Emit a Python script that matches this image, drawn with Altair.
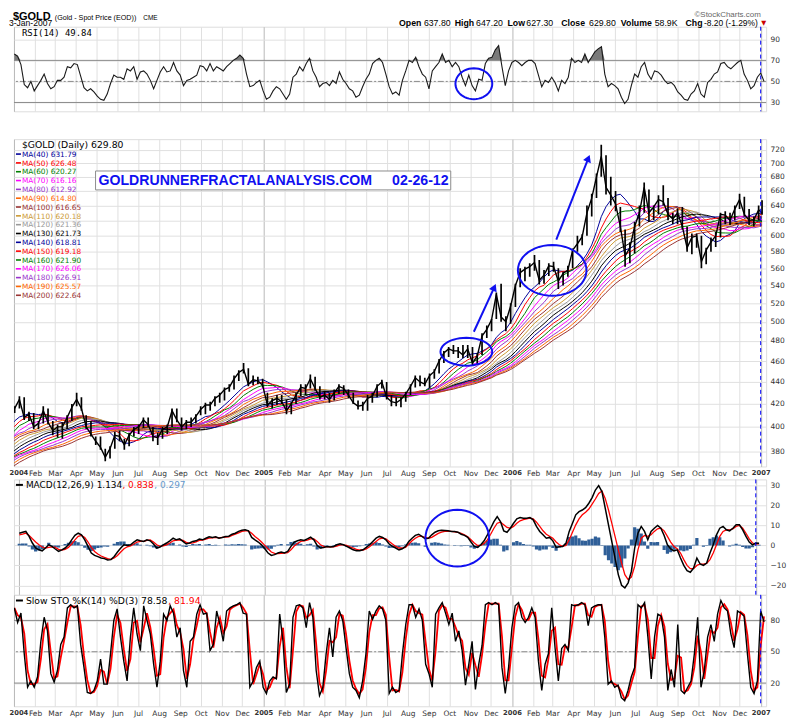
import altair as alt
import numpy as np
import pandas as pd

# ------------------------------------------------------------------ data
# Weekly (Friday) closes of 2003: left of the visible window, they only feed the moving averages.
CLOSE_2003_FIRST_FRIDAY = "2003-01-03"
CLOSE_2003 = [347, 355, 355, 367, 368, 373, 355, 350, 347, 352, 337, 330, 334, 325, 328,
              329, 334, 342, 348, 355, 365, 362, 363, 353, 355, 345, 349, 346, 346, 357,
              354, 357, 360, 364, 375, 378, 380, 384, 387, 370, 374, 371, 385, 383, 381,
              397, 397, 398, 403, 407, 410, 413]

# Weekly (Friday) bars 2004-01-02 .. 2006-12-29
BARS_FIRST_FRIDAY = "2004-01-02"
HIGH = [418, 427, 426, 413, 412, 405, 418, 416, 405, 402, 404, 410, 420, 430, 426, 410, 405, 392,
        392, 382, 384, 396, 397, 390, 395, 400, 402, 408, 408, 400, 395, 400, 402, 416, 416, 408,
        406, 408, 411, 418, 421, 422, 427, 430, 435, 438, 446, 451, 458, 453, 446, 445, 443,
        430, 425, 428, 428, 424, 422, 430, 438, 438, 447, 445, 436, 432, 430, 433, 438, 437, 433,
        430, 423, 422, 428, 430, 438, 442, 440, 428, 426, 426, 431, 438, 446, 446, 444, 448, 452,
        462, 470, 474, 476, 474, 476, 476, 474, 468, 488, 496, 503, 532, 542, 506, 520,
        542, 560, 562, 566, 576, 570, 558, 566, 568, 560, 556, 563, 584, 600, 602, 640, 656, 685,
        728, 712, 680, 660, 638, 608, 592, 618, 640, 672, 662, 640, 654, 668, 650, 630, 636, 638,
        612, 603, 603, 600, 585, 598, 605, 630, 632, 630, 640, 656, 652, 635, 625, 640]
LOW = [412, 416, 406, 405, 398, 398, 403, 402, 393, 391, 390, 398, 405, 418, 414, 398, 392, 385,
       381, 372, 374, 382, 388, 381, 384, 392, 394, 399, 400, 388, 385, 390, 394, 400, 404, 397,
       398, 400, 403, 410, 411, 414, 418, 421, 423, 431, 433, 441, 448, 436, 437, 438, 435,
       417, 416, 419, 420, 411, 411, 420, 427, 428, 434, 432, 424, 424, 421, 423, 429, 428, 425,
       420, 415, 414, 414, 421, 426, 434, 424, 418, 418, 417, 422, 428, 435, 436, 436, 434, 443,
       448, 458, 464, 467, 463, 463, 463, 456, 457, 466, 483, 490, 503, 500, 490, 498,
       516, 538, 545, 550, 557, 541, 542, 551, 556, 536, 540, 550, 560, 580, 588, 600, 625, 650,
       680, 655, 640, 632, 605, 562, 566, 578, 612, 630, 618, 620, 628, 640, 620, 615, 615, 608,
       580, 577, 585, 560, 565, 580, 586, 598, 615, 614, 620, 635, 625, 614, 612, 620]
CLOSE = [416, 424, 408, 411, 400, 403, 414, 404, 397, 400, 400, 408, 417, 424, 416, 400, 394, 388,
         383, 375, 382, 393, 392, 385, 393, 398, 400, 406, 402, 392, 391, 398, 400, 414, 406, 400,
         404, 404, 409, 415, 419, 419, 425, 428, 433, 435, 443, 449, 452, 438, 442, 441, 437,
         419, 423, 425, 422, 414, 420, 428, 435, 434, 443, 434, 426, 428, 424, 430, 436, 434, 428,
         421, 418, 419, 425, 427, 436, 440, 426, 422, 421, 424, 429, 436, 444, 440, 438, 446, 450,
         460, 468, 472, 470, 470, 466, 472, 458, 465, 485, 492, 502, 530, 505, 500, 517,
         540, 555, 559, 562, 567, 546, 552, 563, 562, 545, 554, 558, 582, 590, 599, 630, 650, 680,
         710, 665, 654, 642, 612, 575, 585, 612, 630, 665, 630, 638, 648, 645, 628, 622, 630, 612,
         585, 598, 600, 568, 582, 592, 600, 628, 627, 620, 635, 648, 628, 620, 621, 634]
LAST_DATE = "2007-01-03"
LAST_HIGH, LAST_LOW, LAST_CLOSE = 647.2, 627.3, 629.8

MA_PERIODS = [40, 50, 60, 70, 80, 90, 100, 110, 120, 130, 140, 150, 160, 170, 180, 190, 200]
MA_LAST = ["631.79", "626.48", "620.27", "616.16", "612.92", "614.80", "616.65", "620.18",
           "621.36", "621.73", "618.81", "619.18", "621.90", "626.06", "626.91", "625.57", "622.64"]
MA_COLORS = ["#000099", "#ff0000", "#008000", "#ff00ff", "#9933cc", "#ff6600", "#993333",
             "#cc9933", "#999999", "#000000", "#000099", "#ff0000", "#008000", "#ff00ff",
             "#9933cc", "#ff6600", "#993333"]

# Indicator panels: readings every ~4.87 calendar days starting 2004-01-01
SAMPLE_START = "2004-01-01"
SAMPLE_STEP_DAYS = 4.869
RSI = [76, 74, 66, 47, 44, 50, 41, 46, 51, 57, 48, 43, 45, 51, 51, 54, 64, 63, 67, 66,
       55, 44, 41, 43, 40, 36, 33, 32, 38, 48, 56, 54, 54, 52, 62, 60, 64, 52, 59, 60,
       57, 51, 43, 51, 59, 64, 59, 60, 68, 60, 56, 46, 51, 52, 54, 56, 65, 64, 60, 67,
       60, 64, 62, 60, 64, 67, 70, 72, 75, 72, 57, 45, 46, 49, 51, 41, 33, 35, 41, 45,
       43, 38, 33, 38, 54, 57, 64, 60, 67, 72, 60, 54, 45, 48, 49, 46, 51, 48, 59, 52,
       48, 43, 41, 35, 37, 45, 52, 57, 67, 70, 72, 68, 57, 45, 38, 40, 37,
       51, 60, 70, 68, 73, 64, 57, 54, 43, 60, 64, 68, 76, 68, 70, 64, 68, 64, 54, 46,
       56, 46, 41, 52, 51, 67, 72, 73, 80, 84, 64, 46, 60, 68, 70, 68, 65, 68, 70, 70,
       67, 56, 45, 51, 49, 54, 49, 41, 51, 48, 54, 72, 68, 70, 68, 76, 68, 73, 78, 81,
       83, 57, 45, 48, 46, 43, 35, 29, 33, 46, 57, 54, 64, 68, 57, 52, 60, 59, 56, 51,
       48, 49, 46, 40, 37, 33, 32, 38, 41, 48, 38, 35, 49, 52, 57, 59, 67, 68, 64, 62,
       65, 68, 70, 57, 51, 43, 46, 54, 58, 50]
MACD = [6.1, 6.6, 7, 4.5, 1.2, -1.3, -2.2, -2.7, -1.3, 0.3, -0.5, -1.8, -3, -2.2, -1.3, 0.3, 2.8, 5, 6.1, 5.3,
        2.8, -0.5, -3.8, -5, -5.6, -6.3, -6.6, -7.3, -7.1, -5.5, -3.3, -1.3, 0.3, 0, 0.3, 1.7, 2.8, 2.3, 2, 2.8,
        2.3, 0.7, -1.3, -0.8, 0.3, 1.2, 2.3, 3.6, 2.8, 3.3, 2, 0.7, 1.2, 2, 2.3, 3.2, 2.8, 3.6, 4.3, 4,
        4.3, 3.6, 4, 4.5, 4.6, 5.6, 6.1, 7, 7.6, 7.8, 7.3, 4, 2.8, 1.7, 0.3, -1.7, -3.8, -5, -4.6, -3.8,
        -3.3, -3.8, -3, -0.5, 1.7, 2.3, 2.8, 2.5, 3.3, 4.1, 2.8, 0, -1.3, -1, -0.5, -0.8, -0.5, 0.3, 0.8, 0.3,
        -0.5, -1.3, -2.2, -2.7, -2.7, -2.2, -1, 0.3, 2, 3.6, 4.5, 4, 2.8, 0.7, -0.5, -1.3, -2.2,
        -1.7, -0.5, 2, 3.6, 5, 5.6, 4.5, 3.3, 3.6, 5.3, 6.6, 7.3, 7.6, 7.5, 7.3, 7, 7, 6.6, 5.6, 5,
        4, 1.7, -0.5, -1, 0.3, 2.3, 5.3, 8.6, 11.9, 14.4, 11.9, 7.3, 6.6, 8.6, 11.1, 13.3, 13.9, 13.6, 13.6, 13.9,
        12.8, 9.5, 7, 5.3, 3.6, 4, 2.3, -1, -0.7, -0.5, 1, 7, 11.1, 15.3, 16.9, 17.7, 18.9, 21.1, 23.9, 27.7,
        29.9, 26.9, 18.6, 10.3, 2, -6.3, -14.6, -19.9, -21.2, -18.7, -12.9, -1.3, 6.1, 9.5, 7, 2.8, 7, 8.6, 10, 8.6,
        5, 0.3, -1.7, -2.7, -2.2, -6.3, -10, -12.6, -13.4, -11.3, -6.3, -9.3, -10, -8.8, -3.8, 0.3, 5.3, 8.6, 9.5, 7.8,
        7.3, 8.6, 10.3, 10.3, 7.8, 4.5, 1.7, 0.3, 1.2, 1.13]
SIGNAL = [5.3, 5.6, 6.1, 5, 3.3, 1.7, 0.3, -0.8, -1.3, -1, -0.7, -1, -2, -2.3, -2, -1, 0.7, 2.8, 4.5, 5,
          4, 1.7, -1, -3, -4.3, -5.3, -6, -6.6, -7, -6.3, -5, -3.3, -1.7, -0.7, -0.2, 0.7, 1.7, 2, 2, 2.5,
          2.7, 1.7, 0.3, -0.5, -0.2, 0.3, 1.2, 2.3, 2.7, 2.8, 2.5, 1.5, 1, 1.3, 1.8, 2.5, 2.7, 3.2, 3.6, 3.8,
          4, 3.8, 4, 4.1, 4.3, 5, 5.6, 6.3, 7, 7.3, 7.3, 6.1, 4.5, 3.2, 1.7, 0, -1.7, -3.3, -4, -4.1,
          -4, -3.8, -3.6, -2.2, -0.3, 1, 2, 2.3, 2.7, 3.3, 3.3, 2, 0.3, -0.5, -0.7, -0.7, -0.7, -0.3, 0.3, 0.3,
          0, -0.7, -1.3, -2, -2.3, -2.3, -1.7, -0.7, 0.7, 2, 3.3, 3.6, 3.3, 2, 0.7, -0.5, -1.3,
          -1.3, -1, 0.7, 2.3, 3.6, 4.5, 4.5, 4, 3.6, 4, 5, 6, 6.6, 7, 7, 7, 6.8, 6.5, 6, 5.3,
          4.3, 2.8, 1.2, 0, 0, 1, 2.8, 5.6, 8.6, 11.1, 11.6, 10.3, 9, 8.6, 9.5, 11.1, 12.3, 12.9, 13.3, 13.6,
          13.3, 11.6, 9.5, 7.3, 5.6, 4.6, 3.6, 1.7, 0.3, -0.5, 0, 2.8, 6.6, 10.3, 13.3, 15.3, 16.6, 18.2, 20.6, 23.2,
          26, 27.2, 23.5, 17.7, 11.1, 4.5, -2.2, -8.8, -14.6, -17.1, -15.9, -10.4, -2.2, 3.6, 5, 4.5, 5.3, 7, 8.3, 8.6,
          7.3, 4.5, 1.7, -0.5, -1.7, -3.8, -7.1, -10, -11.6, -11.6, -10, -9.3, -9.3, -9, -7.1, -3.8, 0.3, 4.5, 7, 7.8,
          7.8, 8.3, 9.5, 10, 8.6, 6.1, 3.3, 1.2, 0.8, 0.84]
STO_K = [92, 78, 87, 48, 16, 22, 16, 26, 60, 83, 70, 29, 21, 32, 57, 64, 92, 95, 92, 94,
         57, 35, 11, 10, 13, 22, 43, 19, 19, 48, 80, 91, 64, 41, 22, 64, 92, 67, 51, 94,
         80, 67, 38, 16, 41, 86, 80, 94, 87, 64, 73, 32, 16, 60, 64, 86, 95, 86, 87, 51,
         57, 89, 76, 60, 89, 92, 94, 95, 97, 87, 86, 16, 22, 35, 41, 16, 10, 22, 26, 24,
         86, 60, 11, 19, 83, 94, 95, 92, 73, 97, 83, 32, 8, 16, 48, 73, 45, 83, 89, 80,
         54, 29, 16, 13, 6, 22, 48, 89, 81, 89, 94, 91, 80, 10, 16, 11, 13,
         48, 76, 95, 95, 83, 91, 80, 38, 29, 16, 86, 92, 97, 87, 76, 87, 60, 70, 51, 18,
         38, 60, 14, 38, 56, 95, 97, 95, 97, 95, 35, 10, 35, 73, 94, 97, 83, 78, 83, 92,
         83, 41, 13, 38, 48, 92, 54, 22, 53, 57, 51, 95, 94, 95, 97, 95, 75, 92, 94, 95,
         95, 64, 19, 22, 16, 18, 6, 3, 13, 26, 35, 95, 92, 97, 64, 24, 64, 86, 84, 64,
         13, 33, 16, 76, 13, 10, 16, 22, 48, 83, 16, 32, 64, 76, 60, 86, 99, 92, 89, 67,
         54, 89, 87, 84, 48, 16, 10, 22, 89, 78.6]

# axis tick values
PRICE_TICKS = [380, 400, 420, 440, 460, 480, 500, 520, 540, 560, 580, 600, 620, 640, 660, 680, 700, 720]
RSI_TICKS = [30, 50, 70, 90]
MACD_TICKS = [-20, -10, 0, 10, 20, 30]
STO_TICKS = [20, 50, 80]

# hand-drawn annotations (date, value, box width px, box height px)
RSI_ELLIPSE = ("2005-11-06", 47.8, 37, 31)
PRICE_ELLIPSES = [("2005-10-26", 469.2, 52, 28), ("2006-03-01", 557.6, 69, 51)]
MACD_ELLIPSE = ("2005-10-14", 3.6, 64, 57)
ARROWS = [("2005-11-06", 489.5, "2005-12-06", 537.9, 24), ("2006-03-07", 595.3, "2006-04-23", 707.3, 22)]

# ------------------------------------------------------------------ frames
fridays = pd.date_range(BARS_FIRST_FRIDAY, periods=len(CLOSE), freq="7D")
bars = pd.DataFrame({
    "date": list(fridays) + [pd.Timestamp(LAST_DATE)],
    "high": HIGH + [LAST_HIGH],
    "low": LOW + [LAST_LOW],
    "close": CLOSE + [LAST_CLOSE],
})
seed_dates = pd.date_range(CLOSE_2003_FIRST_FRIDAY, periods=len(CLOSE_2003), freq="7D")
ma_src = pd.DataFrame({"date": list(seed_dates) + list(bars["date"]),
                       "close": CLOSE_2003 + list(bars["close"])})


def sample_dates(n):
    return pd.Timestamp(SAMPLE_START) + pd.to_timedelta(np.arange(n) * SAMPLE_STEP_DAYS + 0.5, unit="D")


rsi_df = pd.DataFrame({"date": sample_dates(len(RSI)), "rsi": RSI})
n_macd = min(len(MACD), len(SIGNAL))
macd_df = pd.DataFrame({"date": sample_dates(n_macd), "macd": MACD[:n_macd], "signal": SIGNAL[:n_macd]})
sto_df = pd.DataFrame({"date": sample_dates(len(STO_K)), "k": STO_K})
year_line = pd.DataFrame({"date": [pd.Timestamp("2007-01-01")]})
DUMMY = pd.DataFrame({"k": [0]})

# ------------------------------------------------------------------ styling helpers
SANS = "DejaVu Sans"
ARIAL = "Liberation Sans"
MONO = "DejaVu Sans Mono"
BLUE = "#1010f0"
W = 756
H_RSI, H_PRICE, H_MACD, H_STO = 85, 329, 116, 112
PLOT_LEFT, RSI_TOP = 13, 26   # page position of the top panel's plot area

X_SCALE = alt.Scale(domain=[alt.DateTime(year=2004, month=1, date=1),
                            alt.DateTime(year=2007, month=1, date=9)], nice=False)
MONTHS = [alt.DateTime(year=y, month=m, date=1) for y in (2004, 2005, 2006) for m in range(1, 13)]
MONTHS.append(alt.DateTime(year=2007, month=1, date=1))
IS_YEAR = "month(datum.value) == 0"


def x_axis(show):
    kw = dict(values=MONTHS, title=None, ticks=False, domain=False, grid=True,
              gridColor={"condition": {"test": IS_YEAR, "value": "#b8b8b8"}, "value": "#e0e0e0"},
              labels=show)
    if show:
        kw.update(labelExpr=f"{IS_YEAR} ? timeFormat(datum.value, '%Y') : timeFormat(datum.value, '%b')",
                  labelFont=SANS, labelColor="#333333",
                  labelFontSize={"condition": {"test": IS_YEAR, "value": 6.8}, "value": 7.5},
                  labelFontWeight={"condition": {"test": IS_YEAR, "value": "bold"}, "value": "normal"},
                  labelFlush=True, labelFlushOffset=5, labelOverlap=False, labelPadding=3)
    return alt.Axis(**kw)


def y_axis(values):
    return alt.Axis(orient="right", values=values, title=None, ticks=False, domain=False, grid=True,
                    gridColor="#e0e0e0", labelFont=SANS, labelFontSize=7.5, labelColor="#333333",
                    labelPadding=4, format="d")


def txt(s, x, y, size, color="#000000", font=SANS, weight="normal"):
    return alt.Chart(DUMMY).mark_text(text=s, font=font, fontSize=size, color=color, fontWeight=weight,
                                      align="left", baseline="alphabetic").encode(
        x=alt.value(x), y=alt.value(y))


def hdr(s, page_x, page_baseline, size, color="#000000", weight="normal", font=ARIAL):
    """header text placed by page position of its baseline"""
    return alt.Chart(DUMMY).mark_text(text=s, font=font, fontSize=size, color=color, fontWeight=weight,
                                      align="left", baseline="alphabetic").encode(
        x=alt.value(page_x - PLOT_LEFT), y=alt.value(page_baseline - RSI_TOP))


def dash(x0, x1, y, color, width=1.6):
    return alt.Chart(DUMMY).mark_rule(color=color, strokeWidth=width).encode(
        x=alt.value(x0), x2=alt.value(x1), y=alt.value(y))


def ellipse_shape(w, h, n=48):
    ry = h / w
    pts = [(np.cos(t), ry * np.sin(t)) for t in np.linspace(0, 2 * np.pi, n, endpoint=False)]
    return "M" + " L".join(f"{a:.3f},{b:.3f}" for a, b in pts) + " Z"


def ellipse(ann, X, Y):
    d, v, w, h = ann
    df = pd.DataFrame({"date": [pd.Timestamp(d)], "v": [v]})
    return alt.Chart(df).mark_point(shape=ellipse_shape(w, h), size=w * w, filled=False, color=BLUE,
                                    strokeWidth=2, opacity=1).encode(x=X, y=Y("v:Q"))


# ------------------------------------------------------------------ RSI panel
RSI_SCALE = alt.Scale(domain=[21.6, 102.0], nice=False, zero=False)
XR = alt.X("date:T", scale=X_SCALE, axis=x_axis(False))


def YR(f):
    return alt.Y(f, scale=RSI_SCALE, axis=y_axis(RSI_TICKS))


rsi_fill = alt.Chart(rsi_df).transform_calculate(top="max(datum.rsi, 70)").mark_area(
    color="#7a7a7a", clip=True).encode(x=XR, y=YR("top:Q"), y2=alt.datum(70))
rsi_levels = alt.Chart(pd.DataFrame({"v": [30, 70]})).mark_rule(color="#8a8a8a", strokeWidth=1).encode(y=YR("v:Q"))
rsi_mid = alt.Chart(pd.DataFrame({"v": [50]})).mark_rule(color="#8a8a8a", strokeWidth=1,
                                                         strokeDash=[6, 2, 2, 2]).encode(y=YR("v:Q"))
rsi_line = alt.Chart(rsi_df).mark_line(color="#1a1a1a", strokeWidth=1.1, clip=True).encode(x=XR, y=YR("rsi:Q"))
rsi_year = alt.Chart(year_line).mark_rule(color="#0000ff", strokeDash=[4, 3], strokeWidth=1).encode(x=XR)

# text bounds reach one font-size above the baseline: keep every baseline >= 8 + size
ROW1, ROW2 = 19.0, 25.2
header = [
    hdr("$GOLD", 12, ROW1, 11, weight="bold"),
    hdr("(Gold - Spot Price (EOD))", 54, ROW1, 7.2),
    hdr("CME", 143, ROW1, 6.5),
    hdr("\u00a9StockCharts.com", 697, 16.0, 8, color="#666666"),
    hdr("3-Jan-2007", 8, ROW2, 8.6),
    hdr("Open", 400, ROW2, 8.8, weight="bold"),
    hdr("637.80", 425, ROW2, 8.8),
    hdr("High", 456, ROW2, 8.8, weight="bold"),
    hdr("647.20", 477.5, ROW2, 8.8),
    hdr("Low", 509, ROW2, 8.8, weight="bold"),
    hdr("627.30", 528, ROW2, 8.8),
    hdr("Close", 563, ROW2, 8.8, weight="bold"),
    hdr("629.80", 591, ROW2, 8.8),
    hdr("Volume", 623, ROW2, 8.8, weight="bold"),
    hdr("58.9K", 657, ROW2, 8.8),
    hdr("Chg", 688, ROW2, 8.8, weight="bold"),
    hdr("-8.20 (-1.29%)", 706.5, ROW2, 8.5),
    hdr("\u25bc", 764, 24.2, 6.5, color="#cc0000", font=SANS),
]
rsi_legend = [txt("RSI(14) 49.84", 8, 9.0, 9.0, font=MONO)]

panel_rsi = alt.layer(rsi_fill, rsi_levels, rsi_mid, rsi_line, rsi_year,
                      ellipse(RSI_ELLIPSE, XR, YR), *header, *rsi_legend).properties(width=W, height=H_RSI)

# ------------------------------------------------------------------ price panel
PRICE_SCALE = alt.Scale(type="log", domain=[367.8, 736.6], nice=False)
XP = alt.X("date:T", scale=X_SCALE, axis=x_axis(True))


def YP(f):
    return alt.Y(f, scale=PRICE_SCALE, axis=y_axis(PRICE_TICKS))


ma_keys = [f"ma{n}" for n in MA_PERIODS]
ma_chart = alt.Chart(ma_src)
for n in MA_PERIODS:
    w = n // 5  # trading days -> weeks
    ma_chart = ma_chart.transform_window(**{f"ma{n}": "mean(close)"}, frame=[-(w - 1), 0],
                                         sort=[alt.SortField("date")])
ma_lines = ma_chart.transform_fold(ma_keys, as_=["ma", "value"]).mark_line(
    strokeWidth=1, clip=True).encode(
    x=XP, y=YP("value:Q"),
    color=alt.Color("ma:N", scale=alt.Scale(domain=ma_keys, range=MA_COLORS), legend=None))

hl = alt.Chart(bars).mark_rule(color="#000000", strokeWidth=1.7, clip=True).encode(
    x=XP, y=YP("low:Q"), y2="high:Q")
close_line = alt.Chart(bars).mark_line(color="#000000", strokeWidth=1.4, clip=True).encode(
    x=XP, y=YP("close:Q"))
price_year = alt.Chart(year_line).mark_rule(color="#0000ff", strokeDash=[4, 3], strokeWidth=1).encode(x=XP)

arrow_layers = []
for d0, p0, d1, p1, ang in ARROWS:
    adf = pd.DataFrame({"date": [pd.Timestamp(d0)], "p0": [p0], "d1": [pd.Timestamp(d1)], "p1": [p1]})
    arrow_layers.append(alt.Chart(adf).mark_rule(color=BLUE, strokeWidth=2).encode(
        x=XP, x2="d1:T", y=YP("p0:Q"), y2="p1:Q"))
    hdf = pd.DataFrame({"date": [pd.Timestamp(d1)], "p1": [p1]})
    arrow_layers.append(alt.Chart(hdf).mark_point(shape="triangle-up", filled=True, size=70, color=BLUE,
                                                  opacity=1, angle=ang).encode(x=XP, y=YP("p1:Q")))

legend_layers = [txt("$GOLD (Daily) 629.80", 8, 9.3, 9.3)]
for k, (n, val, col) in enumerate(zip(MA_PERIODS, MA_LAST, MA_COLORS)):
    yc = 15 + 8.87 * k
    legend_layers.append(dash(2, 7, yc, col))
    legend_layers.append(txt(f"MA({n}) {val}", 8, yc + 2.7, 7.4, color=col))

box = [
    alt.Chart(DUMMY).mark_rect(fill="#ffffff", stroke="#8c8c8c", strokeWidth=1).encode(
        x=alt.value(82), x2=alt.value(439), y=alt.value(32), y2=alt.value(51)),
    txt("GOLDRUNNERFRACTALANALYSIS.COM", 85, 46.5, 14.2, color=BLUE, weight="bold", font=ARIAL),
    txt("02-26-12", 380, 46.5, 14.2, color=BLUE, weight="bold", font=ARIAL),
]

panel_price = alt.layer(ma_lines, hl, close_line, price_year,
                        *[ellipse(e, XP, YP) for e in PRICE_ELLIPSES], *arrow_layers,
                        *legend_layers, *box).properties(width=W, height=H_PRICE)

# ------------------------------------------------------------------ MACD panel
MACD_SCALE = alt.Scale(domain=[-24.7, 33.0], nice=False, zero=False)
XM = alt.X("date:T", scale=X_SCALE, axis=x_axis(False))


def YM(f):
    return alt.Y(f, scale=MACD_SCALE, axis=y_axis(MACD_TICKS))


macd_hist = alt.Chart(macd_df).transform_calculate(hist="datum.macd - datum.signal").mark_bar(
    size=3.2, color="#2f5f98", clip=True).encode(x=XM, y=YM("hist:Q"), y2=alt.datum(0))
macd_sig = alt.Chart(macd_df).mark_line(color="#ff0000", strokeWidth=1.3, clip=True).encode(x=XM, y=YM("signal:Q"))
macd_line = alt.Chart(macd_df).mark_line(color="#000000", strokeWidth=1.5, clip=True).encode(x=XM, y=YM("macd:Q"))
macd_year = alt.Chart(year_line).mark_rule(color="#0000ff", strokeDash=[4, 3], strokeWidth=1).encode(x=XM)
macd_legend = [
    dash(2, 9, 5.5, "#000000", 2),
    txt("MACD(12,26,9) 1.134", 12, 8.7, 9),
    txt(", 0.838", 109, 8.7, 9, color="#ff0000"),
    txt(", 0.297", 141, 8.7, 9, color="#6699cc"),
]
panel_macd = alt.layer(macd_hist, macd_sig, macd_line, macd_year, ellipse(MACD_ELLIPSE, XM, YM),
                       *macd_legend).properties(width=W, height=H_MACD)

# ------------------------------------------------------------------ Slow stochastic panel
STO_SCALE = alt.Scale(domain=[-2.2, 104.5], nice=False, zero=False)
XS = alt.X("date:T", scale=X_SCALE, axis=x_axis(True))


def YS(f):
    return alt.Y(f, scale=STO_SCALE, axis=y_axis(STO_TICKS))


sto_levels = alt.Chart(pd.DataFrame({"v": [20, 80]})).mark_rule(color="#8a8a8a", strokeWidth=1).encode(y=YS("v:Q"))
sto_mid = alt.Chart(pd.DataFrame({"v": [50]})).mark_rule(color="#8a8a8a", strokeWidth=1,
                                                         strokeDash=[6, 2, 2, 2]).encode(y=YS("v:Q"))
sto_d = alt.Chart(sto_df).transform_window(d="mean(k)", frame=[-1, 0], sort=[alt.SortField("date")]).mark_line(
    color="#ff0000", strokeWidth=1.8, clip=True).encode(x=XS, y=YS("d:Q"))
sto_k = alt.Chart(sto_df).mark_line(color="#000000", strokeWidth=1.4, clip=True).encode(x=XS, y=YS("k:Q"))
sto_year = alt.Chart(year_line).mark_rule(color="#0000ff", strokeDash=[4, 3], strokeWidth=1).encode(x=XS)
sto_legend = [
    dash(2, 9, 5.7, "#000000", 2),
    txt("Slow STO %K(14) %D(3) 78.58", 12, 8.9, 9.3),
    txt(", 81.94", 155, 8.9, 9.3, color="#ff0000"),
]
panel_sto = alt.layer(sto_levels, sto_mid, sto_d, sto_k, sto_year, *sto_legend).properties(width=W, height=H_STO)

# ------------------------------------------------------------------ layout
lower = alt.vconcat(panel_macd, panel_sto, spacing=0, bounds="flush")
middle = alt.vconcat(panel_price, lower, spacing=13, bounds="flush")
chart = alt.vconcat(panel_rsi, middle, spacing=28, bounds="flush").properties(
    padding={"left": 0, "top": 0, "right": 5, "bottom": 2}
).configure_view(stroke="#9a9a9a", strokeWidth=1).configure(background="#ffffff")

chart.save("out.html", embed_options={"renderer": "svg", "actions": False})
